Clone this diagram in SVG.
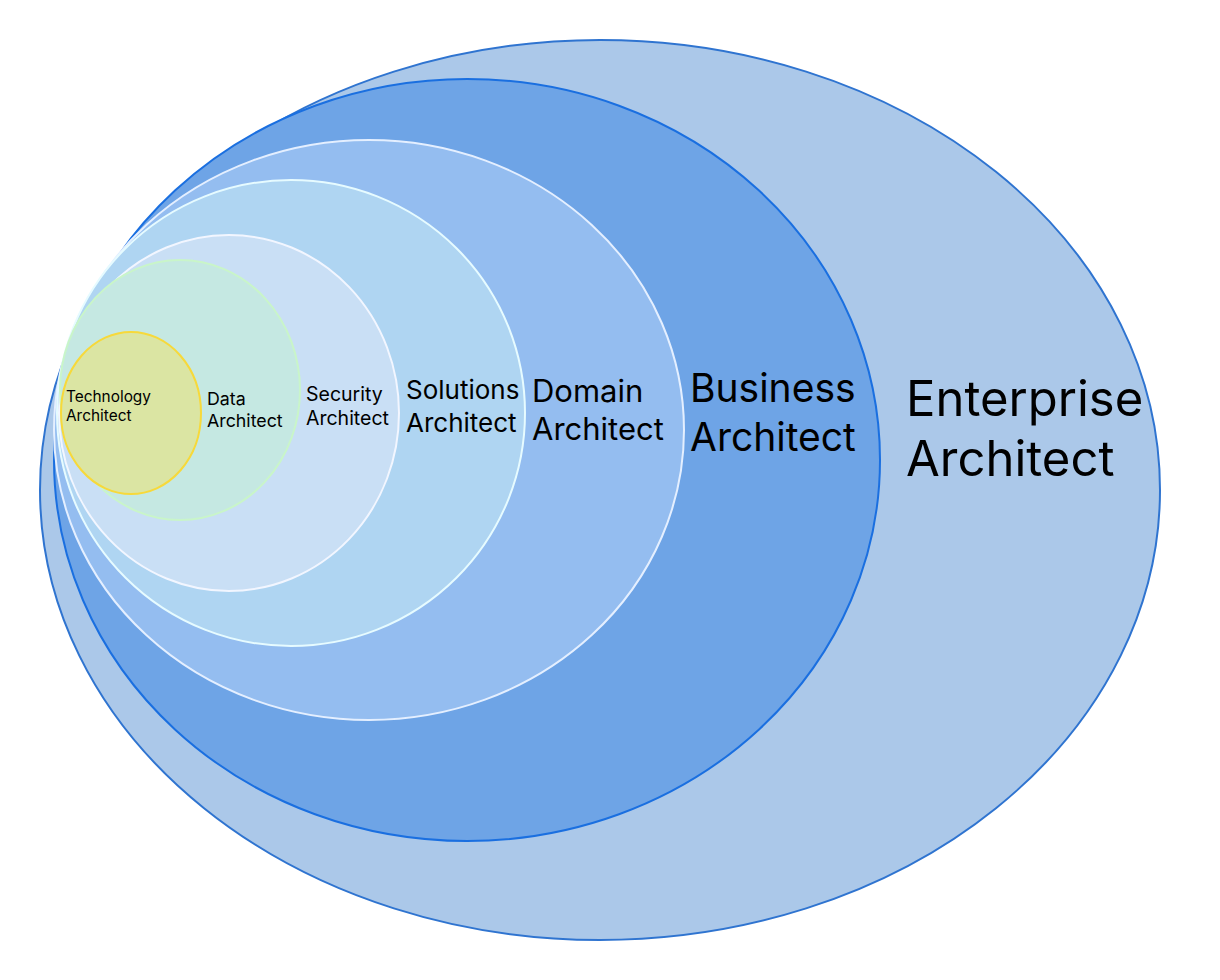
<svg xmlns="http://www.w3.org/2000/svg" width="1220" height="980" viewBox="0 0 1220 980">
<style>
text{font-family:Inter,"Noto Sans","Liberation Sans",sans-serif;fill:#000}
</style>
<rect width="1220" height="980" fill="#fff"/>
<g id="enterprise">
<ellipse cx="600" cy="490" rx="560" ry="450" fill="#abc8e9" stroke="#2f74d0" stroke-width="2"/>
<text font-size="49"><tspan x="906" y="416">Enterprise</tspan><tspan x="906" y="476">Architect</tspan></text>
</g>
<g id="business">
<ellipse cx="467" cy="460" rx="413" ry="381" fill="#6ea4e6" stroke="#1a6fe0" stroke-width="2"/>
<text font-size="39"><tspan x="690" y="402">Business</tspan><tspan x="690" y="451">Architect</tspan></text>
</g>
<g id="domain">
<ellipse cx="369" cy="430" rx="315" ry="290" fill="#94bdf0" stroke="#e4efff" stroke-width="2"/>
<text font-size="31"><tspan x="532" y="402">Domain</tspan><tspan x="532" y="440">Architect</tspan></text>
</g>
<g id="solutions">
<ellipse cx="291" cy="413" rx="234" ry="233" fill="#afd5f2" stroke="#e6fbff" stroke-width="2"/>
<text font-size="26"><tspan x="406" y="399">Solutions</tspan><tspan x="406" y="432">Architect</tspan></text>
</g>
<g id="security">
<ellipse cx="229" cy="413" rx="170" ry="178" fill="#c9dff5" stroke="#f2f6ff" stroke-width="2"/>
<text font-size="19.5"><tspan x="306" y="401">Security</tspan><tspan x="306" y="425">Architect</tspan></text>
</g>
<g id="data">
<ellipse cx="180" cy="390" rx="120" ry="130" fill="#c5e8e2" stroke="#c9f5c9" stroke-width="2"/>
<text font-size="17.8"><tspan x="207" y="405">Data</tspan><tspan x="207" y="427">Architect</tspan></text>
</g>
<g id="technology">
<ellipse cx="131" cy="413" rx="70" ry="81" fill="#dbe5a3" stroke="#f7d93a" stroke-width="2"/>
<text font-size="15.4"><tspan x="66" y="402">Technology</tspan><tspan x="66" y="421">Architect</tspan></text>
</g>
<g id="connectors"/>
</svg>
